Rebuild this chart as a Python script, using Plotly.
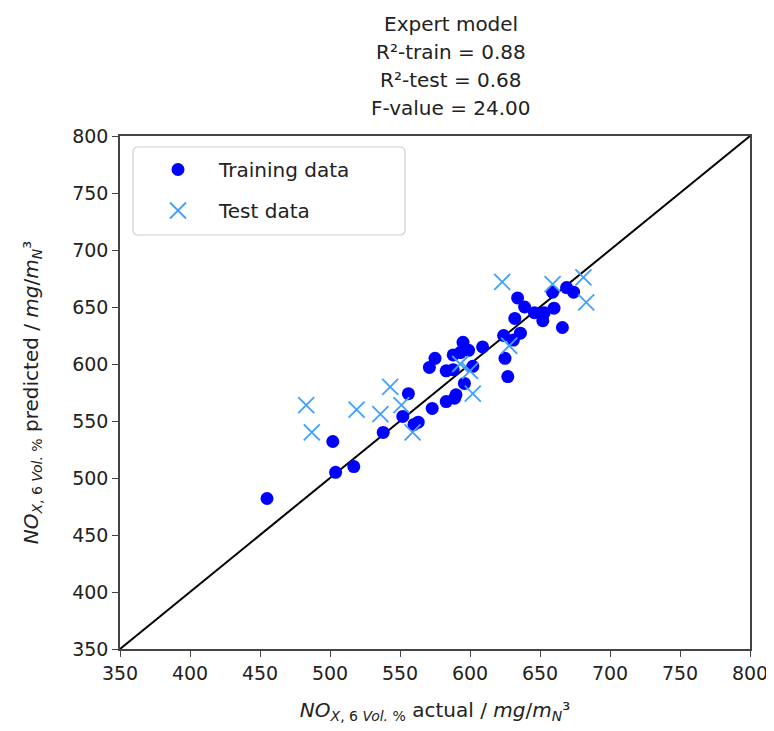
import plotly.graph_objects as go

# Training data (actual, predicted)
train_actual = [455, 502, 504, 517, 538, 552, 556, 560, 563, 573, 583, 589, 590, 596,
                571, 575, 583, 588, 588, 593, 595, 599, 602, 609, 624, 625, 627, 631,
                632, 636, 634, 639, 646, 653, 652, 660, 666, 659, 669, 674]
train_pred = [482, 532, 505, 510, 540, 554, 574, 547, 549, 561, 567, 570, 573, 583,
              597, 605, 594, 595, 608, 610, 619, 612, 598, 615, 625, 605, 589, 621,
              640, 627, 658, 650, 645, 645, 638, 649, 632, 663, 667, 663]

# Test data (actual, predicted)
test_actual = [483, 487, 519, 536, 543, 551, 559, 593, 600, 602, 628, 623, 659, 681, 683]
test_pred = [564, 540, 560, 556, 580, 564, 540, 600, 594, 574, 616, 672, 670, 676, 654]

axis_range = [350, 800]
tick_vals = [350, 400, 450, 500, 550, 600, 650, 700, 750, 800]

title_lines = ["Expert model", "R²-train = 0.88", "R²-test = 0.68", "F-value = 24.00"]

FONT = "DejaVu Sans"
TXT = "#222222"

# page body has an 8px margin: size the figure so it ends at the window edge
OFF = 8
W, H = 774 - OFF, 731 - OFF
ML, MR, MT, MB = 120 - OFF, 24, 136 - OFF, 82
PH = H - MT - MB
PW = W - ML - MR


def px_x(p):  # window pixel -> paper x
    return (p - OFF - ML) / PW


def px_y(p):  # window pixel -> paper y
    return 1 + (MT + OFF - p) / PH


fig = go.Figure()

fig.add_trace(go.Scatter(
    x=axis_range, y=axis_range, mode="lines",
    line=dict(color="black", width=2), showlegend=False, hoverinfo="skip"))

fig.add_trace(go.Scatter(
    x=train_actual, y=train_pred, mode="markers", name="Training data",
    legendgroup="a",
    marker=dict(symbol="circle", size=13, color="#0000FF", line=dict(width=0))))

fig.add_trace(go.Scatter(
    x=test_actual, y=test_pred, mode="markers", name="Test data",
    legendgroup="b",
    marker=dict(symbol="x-thin", size=16, color="#3FA0FF",
                line=dict(width=1.8, color="#3FA0FF"))))

label_sub = "<i>NO<sub>X</sub></i><sub>, 6 <i>Vol.</i> %</sub>"
unit = "<i>mg</i>/<i>m<sub>N</sub></i>³"

axis_common = dict(
    range=axis_range, tickvals=tick_vals, showgrid=False, zeroline=False,
    showline=True, linecolor="#444444", linewidth=1.5, mirror=True,
    ticks="outside", ticklen=6, tickwidth=1.2, tickcolor="#444444",
    tickfont=dict(family=FONT, size=19, color=TXT),
)

title_px = [24, 52, 80, 108]
annotations = []
for line, py in zip(title_lines, title_px):
    annotations.append(dict(
        text=line, xref="paper", yref="paper",
        x=px_x(451), y=px_y(py),
        xanchor="center", yanchor="middle", showarrow=False,
        font=dict(family=FONT, size=20, color=TXT)))

# rounded legend frame (matplotlib style)
x0, x1 = px_x(133), px_x(405)
y0, y1 = px_y(235), px_y(147)
rx, ry = 5 / PW, 5 / PH
path = (f"M {x0+rx},{y0} L {x1-rx},{y0} Q {x1},{y0} {x1},{y0+ry} "
        f"L {x1},{y1-ry} Q {x1},{y1} {x1-rx},{y1} L {x0+rx},{y1} "
        f"Q {x0},{y1} {x0},{y1-ry} L {x0},{y0+ry} Q {x0},{y0} {x0+rx},{y0} Z")

fig.update_layout(
    width=W, height=H,
    margin=dict(l=ML, r=MR, t=MT, b=MB, autoexpand=False),
    paper_bgcolor="white", plot_bgcolor="white",
    font=dict(family=FONT, color=TXT),
    annotations=annotations,
    shapes=[dict(type="path", path=path, xref="paper", yref="paper",
                 line=dict(color="#d0d0d0", width=1.2),
                 fillcolor="rgba(255,255,255,0.85)", layer="above")],
    xaxis=dict(**axis_common,
               title=dict(text=f"{label_sub} actual / {unit}",
                          font=dict(family=FONT, size=20, color=TXT),
                          standoff=20)),
    yaxis=dict(**axis_common,
               title=dict(text=f"{label_sub} predicted / {unit}",
                          font=dict(family=FONT, size=20, color=TXT),
                          standoff=28)),
    legend=dict(x=px_x(137), y=px_y(150), xanchor="left", yanchor="top",
                bgcolor="rgba(0,0,0,0)", borderwidth=0,
                font=dict(family=FONT, size=20, color=TXT),
                itemwidth=72, tracegroupgap=12),
)

fig.write_html("out.html")
